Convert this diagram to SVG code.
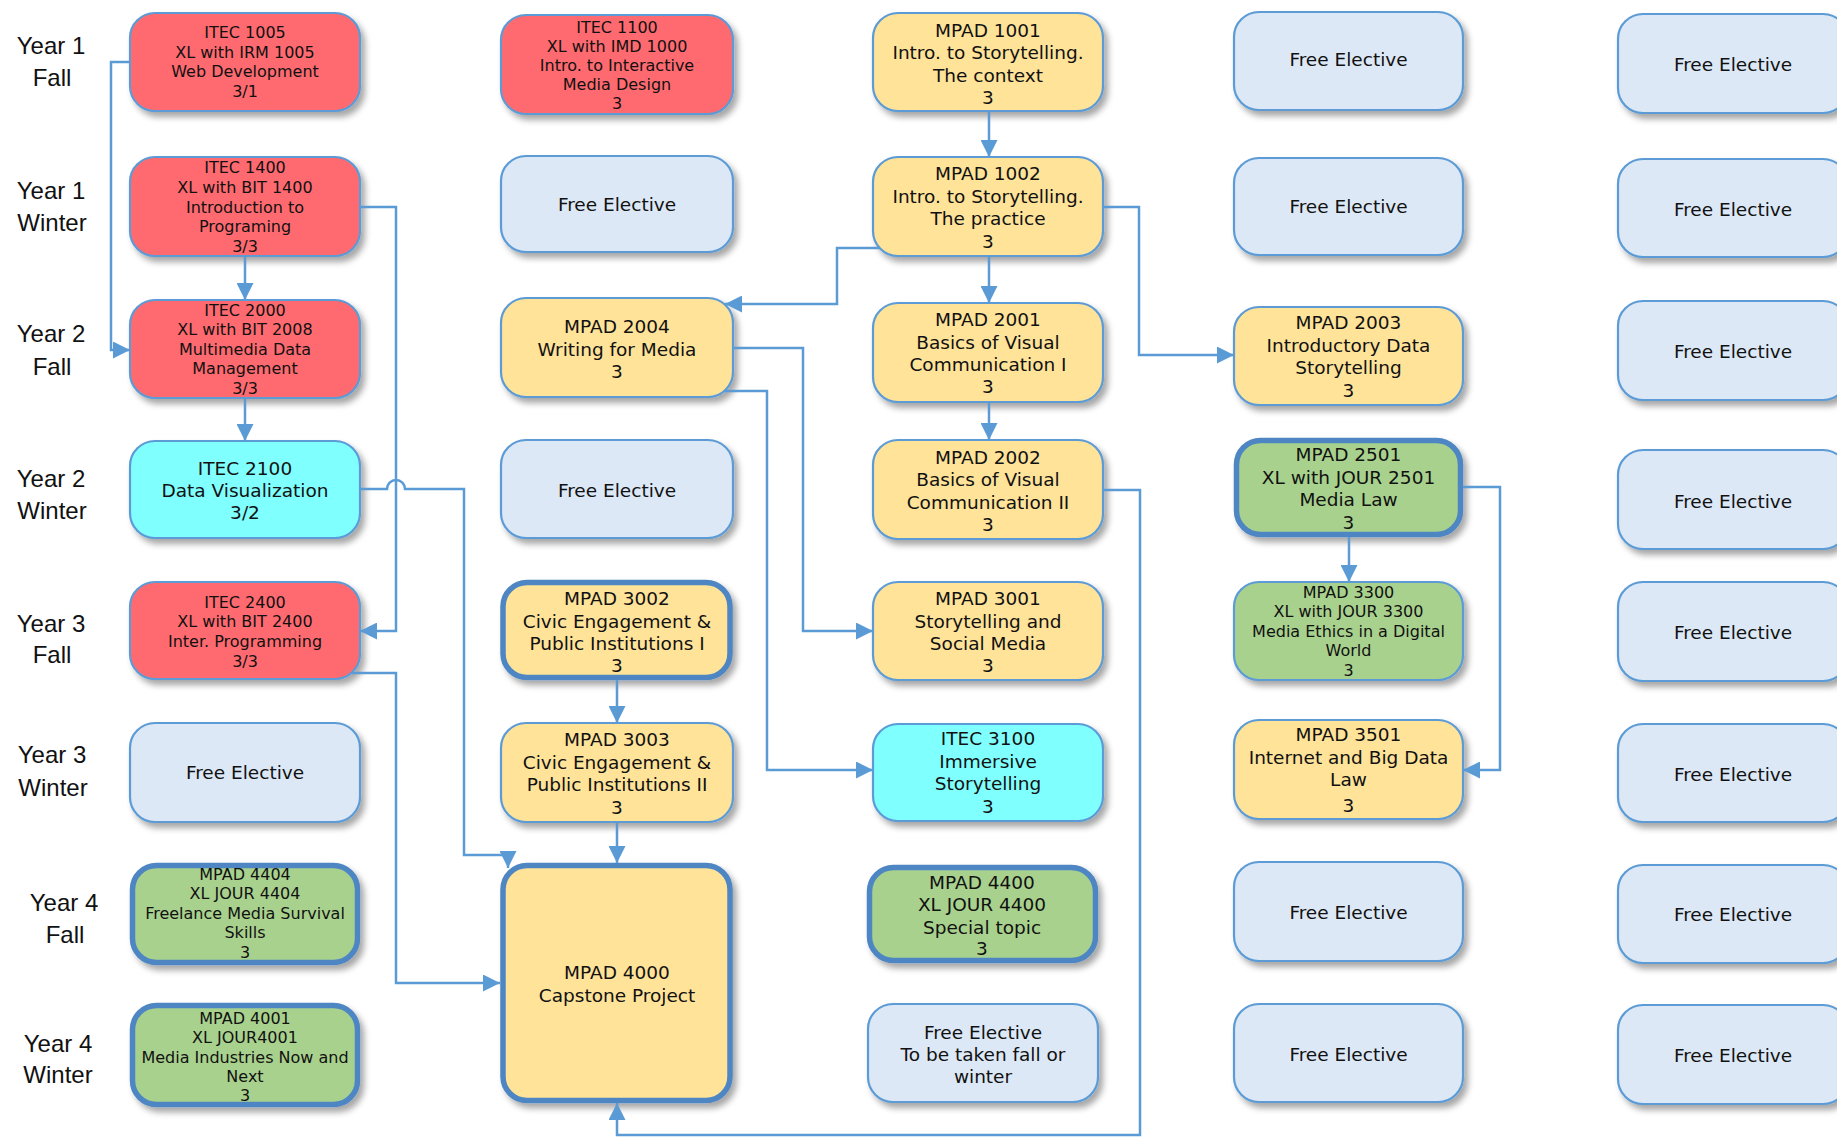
<svg xmlns="http://www.w3.org/2000/svg" width="1837" height="1137" viewBox="0 0 1837 1137">
<defs>
<filter id="sh" x="-10%" y="-10%" width="130%" height="140%">
<feDropShadow dx="4" dy="5" stdDeviation="3" flood-color="#000" flood-opacity="0.35"/>
</filter>
<marker id="arr" markerUnits="userSpaceOnUse" markerWidth="17" markerHeight="17" viewBox="0 0 16 16" refX="16" refY="8" orient="auto">
<path d="M0,0 L16,8 L0,16 z" fill="#5B9BD5"/>
</marker>
<style>
rect{filter:url(#sh);}
.thin{stroke:#5B9BD5;stroke-width:2.2;}
.thick{stroke:#4E86C2;stroke-width:5.5;}
.red{fill:#FF6B6F;}
.yel{fill:#FFE399;}
.ble{fill:#DCE8F5;}
.cyn{fill:#80FFFF;}
.grn{fill:#A9D18E;}
text{fill:#111;text-anchor:middle;font-family:"DejaVu Sans","Noto Sans",sans-serif;}
.s16{font-size:16px;}
.s18{font-size:18.5px;}
.fe{font-size:18.5px;}
.lbl{font-family:"Liberation Sans",Arial,sans-serif;font-size:24px;}
.con{fill:none;stroke:#5B9BD5;stroke-width:2.5;}
</style>
</defs>
<rect width="1837" height="1137" fill="#fff" style="filter:none"/>

<g id="labels">
<text class="lbl" x="51" y="54">Year 1</text><text class="lbl" x="52" y="86">Fall</text>
<text class="lbl" x="51" y="199">Year 1</text><text class="lbl" x="52" y="231">Winter</text>
<text class="lbl" x="51" y="342">Year 2</text><text class="lbl" x="52" y="375">Fall</text>
<text class="lbl" x="51" y="487">Year 2</text><text class="lbl" x="52" y="519">Winter</text>
<text class="lbl" x="51" y="632">Year 3</text><text class="lbl" x="52" y="663">Fall</text>
<text class="lbl" x="52" y="763">Year 3</text><text class="lbl" x="53" y="796">Winter</text>
<text class="lbl" x="64" y="911">Year 4</text><text class="lbl" x="65" y="943">Fall</text>
<text class="lbl" x="58" y="1052">Year 4</text><text class="lbl" x="58" y="1083">Winter</text>
</g>

<!-- Column A -->
<g id="itec1005"><rect class="red thin" x="130" y="13" width="230" height="98" rx="25"/>
<text class="s16"><tspan x="245" y="38">ITEC 1005</tspan><tspan x="245" y="57.5">XL with IRM 1005</tspan><tspan x="245" y="77">Web Development</tspan><tspan x="245" y="96.5">3/1</tspan></text></g>
<g id="itec1400"><rect class="red thin" x="130" y="157" width="230" height="99" rx="25"/>
<text class="s16"><tspan x="245" y="173">ITEC 1400</tspan><tspan x="245" y="193">XL with BIT 1400</tspan><tspan x="245" y="213">Introduction to</tspan><tspan x="245" y="232">Programing</tspan><tspan x="245" y="252">3/3</tspan></text></g>
<g id="itec2000"><rect class="red thin" x="130" y="300" width="230" height="98" rx="25"/>
<text class="s16"><tspan x="245" y="315.5">ITEC 2000</tspan><tspan x="245" y="335">XL with BIT 2008</tspan><tspan x="245" y="354.5">Multimedia Data</tspan><tspan x="245" y="374">Management</tspan><tspan x="245" y="393.5">3/3</tspan></text></g>
<g id="itec2100"><rect class="cyn thin" x="130" y="441" width="230" height="97" rx="25"/>
<text class="s18"><tspan x="245" y="475">ITEC 2100</tspan><tspan x="245" y="497">Data Visualization</tspan><tspan x="245" y="519">3/2</tspan></text></g>
<g id="itec2400"><rect class="red thin" x="130" y="582" width="230" height="97" rx="25"/>
<text class="s16"><tspan x="245" y="608">ITEC 2400</tspan><tspan x="245" y="627">XL with BIT 2400</tspan><tspan x="245" y="647">Inter. Programming</tspan><tspan x="245" y="667">3/3</tspan></text></g>
<g id="feA6"><rect class="ble thin" x="130" y="723" width="230" height="99" rx="25"/>
<text class="fe" x="245" y="779">Free Elective</text></g>
<g id="mpad4404"><rect class="grn thick" x="132.5" y="865.5" width="225" height="97" rx="24"/>
<text class="s16"><tspan x="245" y="880">MPAD 4404</tspan><tspan x="245" y="899">XL JOUR 4404</tspan><tspan x="245" y="919">Freelance Media Survival</tspan><tspan x="245" y="938">Skills</tspan><tspan x="245" y="958">3</tspan></text></g>
<g id="mpad4001"><rect class="grn thick" x="132.5" y="1005.5" width="225" height="99" rx="24"/>
<text class="s16"><tspan x="245" y="1024">MPAD 4001</tspan><tspan x="245" y="1043">XL JOUR4001</tspan><tspan x="245" y="1063">Media Industries Now and</tspan><tspan x="245" y="1082">Next</tspan><tspan x="245" y="1101">3</tspan></text></g>

<!-- Column B -->
<g id="itec1100"><rect class="red thin" x="501" y="15" width="232" height="99" rx="25"/>
<text class="s16"><tspan x="617" y="33">ITEC 1100</tspan><tspan x="617" y="52">XL with IMD 1000</tspan><tspan x="617" y="71">Intro. to Interactive</tspan><tspan x="617" y="90">Media Design</tspan><tspan x="617" y="109">3</tspan></text></g>
<g id="feB2"><rect class="ble thin" x="501" y="156" width="232" height="96" rx="25"/>
<text class="fe" x="617" y="210.5">Free Elective</text></g>
<g id="mpad2004"><rect class="yel thin" x="501" y="298" width="232" height="99" rx="25"/>
<text class="s18"><tspan x="617" y="333">MPAD 2004</tspan><tspan x="617" y="356">Writing for Media</tspan><tspan x="617" y="378">3</tspan></text></g>
<g id="feB4"><rect class="ble thin" x="501" y="440" width="232" height="98" rx="25"/>
<text class="fe" x="617" y="496.5">Free Elective</text></g>
<g id="mpad3002"><rect class="yel thick" x="503" y="582.5" width="227" height="95" rx="24"/>
<text class="s18"><tspan x="617" y="605">MPAD 3002</tspan><tspan x="617" y="628">Civic Engagement &amp;</tspan><tspan x="617" y="650">Public Institutions I</tspan><tspan x="617" y="672">3</tspan></text></g>
<g id="mpad3003"><rect class="yel thin" x="501" y="723" width="232" height="99" rx="25"/>
<text class="s18"><tspan x="617" y="746">MPAD 3003</tspan><tspan x="617" y="769">Civic Engagement &amp;</tspan><tspan x="617" y="791">Public Institutions II</tspan><tspan x="617" y="813.5">3</tspan></text></g>
<g id="mpad4000"><rect class="yel thick" x="503" y="865.5" width="227" height="235" rx="24"/>
<text class="s18"><tspan x="617" y="979">MPAD 4000</tspan><tspan x="617" y="1002">Capstone Project</tspan></text></g>

<!-- Column C -->
<g id="mpad1001"><rect class="yel thin" x="873" y="13" width="230" height="98" rx="25"/>
<text class="s18"><tspan x="988" y="37">MPAD 1001</tspan><tspan x="988" y="59">Intro. to Storytelling.</tspan><tspan x="988" y="81.5">The context</tspan><tspan x="988" y="104">3</tspan></text></g>
<g id="mpad1002"><rect class="yel thin" x="873" y="157" width="230" height="99" rx="25"/>
<text class="s18"><tspan x="988" y="180">MPAD 1002</tspan><tspan x="988" y="202.5">Intro. to Storytelling.</tspan><tspan x="988" y="225">The practice</tspan><tspan x="988" y="247.5">3</tspan></text></g>
<g id="mpad2001"><rect class="yel thin" x="873" y="303" width="230" height="99" rx="25"/>
<text class="s18"><tspan x="988" y="326">MPAD 2001</tspan><tspan x="988" y="349">Basics of Visual</tspan><tspan x="988" y="371">Communication I</tspan><tspan x="988" y="393">3</tspan></text></g>
<g id="mpad2002"><rect class="yel thin" x="873" y="440" width="230" height="99" rx="25"/>
<text class="s18"><tspan x="988" y="464">MPAD 2002</tspan><tspan x="988" y="486">Basics of Visual</tspan><tspan x="988" y="509">Communication II</tspan><tspan x="988" y="531">3</tspan></text></g>
<g id="mpad3001"><rect class="yel thin" x="873" y="582" width="230" height="98" rx="25"/>
<text class="s18"><tspan x="988" y="605">MPAD 3001</tspan><tspan x="988" y="628">Storytelling and</tspan><tspan x="988" y="650">Social Media</tspan><tspan x="988" y="672">3</tspan></text></g>
<g id="itec3100"><rect class="cyn thin" x="873" y="724" width="230" height="97" rx="25"/>
<text class="s18"><tspan x="988" y="745">ITEC 3100</tspan><tspan x="988" y="768">Immersive</tspan><tspan x="988" y="790">Storytelling</tspan><tspan x="988" y="813">3</tspan></text></g>
<g id="mpad4400"><rect class="grn thick" x="869.5" y="867.5" width="226" height="93" rx="24"/>
<text class="s18"><tspan x="982" y="889">MPAD 4400</tspan><tspan x="982" y="911">XL JOUR 4400</tspan><tspan x="982" y="934">Special topic</tspan><tspan x="982" y="955">3</tspan></text></g>
<g id="feC8"><rect class="ble thin" x="868" y="1004" width="230" height="98" rx="25"/>
<text class="s18"><tspan x="983" y="1038.5">Free Elective</tspan><tspan x="983" y="1060.5">To be taken fall or</tspan><tspan x="983" y="1082.5">winter</tspan></text></g>

<!-- Column D -->
<g id="feD1"><rect class="ble thin" x="1234" y="12" width="229" height="98" rx="25"/>
<text class="fe" x="1348.5" y="66">Free Elective</text></g>
<g id="feD2"><rect class="ble thin" x="1234" y="158" width="229" height="97" rx="25"/>
<text class="fe" x="1348.5" y="212.5">Free Elective</text></g>
<g id="mpad2003"><rect class="yel thin" x="1234" y="307" width="229" height="98" rx="25"/>
<text class="s18"><tspan x="1348.5" y="329">MPAD 2003</tspan><tspan x="1348.5" y="352">Introductory Data</tspan><tspan x="1348.5" y="374">Storytelling</tspan><tspan x="1348.5" y="397">3</tspan></text></g>
<g id="mpad2501"><rect class="grn thick" x="1236.5" y="440.5" width="224" height="94" rx="24"/>
<text class="s18"><tspan x="1348.5" y="461">MPAD 2501</tspan><tspan x="1348.5" y="484">XL with JOUR 2501</tspan><tspan x="1348.5" y="506">Media Law</tspan><tspan x="1348.5" y="529">3</tspan></text></g>
<g id="mpad3300"><rect class="grn thin" x="1234" y="582" width="229" height="98" rx="25"/>
<text class="s16"><tspan x="1348.5" y="597.5">MPAD 3300</tspan><tspan x="1348.5" y="617">XL with JOUR 3300</tspan><tspan x="1348.5" y="636.5">Media Ethics in a Digital</tspan><tspan x="1348.5" y="656">World</tspan><tspan x="1348.5" y="675.5">3</tspan></text></g>
<g id="mpad3501"><rect class="yel thin" x="1234" y="720" width="229" height="99" rx="25"/>
<text class="s18"><tspan x="1348.5" y="741">MPAD 3501</tspan><tspan x="1348.5" y="763.5">Internet and Big Data</tspan><tspan x="1348.5" y="786">Law</tspan><tspan x="1348.5" y="812">3</tspan></text></g>
<g id="feD7"><rect class="ble thin" x="1234" y="862" width="229" height="99" rx="25"/>
<text class="fe" x="1348.5" y="919">Free Elective</text></g>
<g id="feD8"><rect class="ble thin" x="1234" y="1004" width="229" height="98" rx="25"/>
<text class="fe" x="1348.5" y="1061">Free Elective</text></g>

<!-- Column E -->
<g id="feE1"><rect class="ble thin" x="1618" y="14" width="230" height="99" rx="25"/><text class="fe" x="1733" y="70.5">Free Elective</text></g>
<g id="feE2"><rect class="ble thin" x="1618" y="159" width="230" height="98" rx="25"/><text class="fe" x="1733" y="216">Free Elective</text></g>
<g id="feE3"><rect class="ble thin" x="1618" y="301" width="230" height="99" rx="25"/><text class="fe" x="1733" y="358">Free Elective</text></g>
<g id="feE4"><rect class="ble thin" x="1618" y="450" width="230" height="99" rx="25"/><text class="fe" x="1733" y="507.5">Free Elective</text></g>
<g id="feE5"><rect class="ble thin" x="1618" y="582" width="230" height="99" rx="25"/><text class="fe" x="1733" y="639">Free Elective</text></g>
<g id="feE6"><rect class="ble thin" x="1618" y="724" width="230" height="98" rx="25"/><text class="fe" x="1733" y="780.5">Free Elective</text></g>
<g id="feE7"><rect class="ble thin" x="1618" y="865" width="230" height="98" rx="25"/><text class="fe" x="1733" y="921">Free Elective</text></g>
<g id="feE8"><rect class="ble thin" x="1618" y="1005" width="230" height="99" rx="25"/><text class="fe" x="1733" y="1062">Free Elective</text></g>

<g id="connectors">
<path class="con" marker-end="url(#arr)" d="M130,62 H111 V350 H130"/>
<path class="con" marker-end="url(#arr)" d="M245,256 V300"/>
<path class="con" marker-end="url(#arr)" d="M360,207 H396 V631 H360"/>
<path class="con" marker-end="url(#arr)" d="M245,398 V441"/>
<path class="con" marker-end="url(#arr)" d="M360,489 H387 A9,9 0 0 1 405,489 H464 V855 H508 V868"/>
<path class="con" marker-end="url(#arr)" d="M351,673 H396 V983 H500"/>
<path class="con" marker-end="url(#arr)" d="M989,111 V157"/>
<path class="con" marker-end="url(#arr)" d="M880,248 H837 V304 H725"/>
<path class="con" marker-end="url(#arr)" d="M989,256 V303"/>
<path class="con" marker-end="url(#arr)" d="M1103,207 H1139 V355 H1234"/>
<path class="con" marker-end="url(#arr)" d="M989,402 V440"/>
<path class="con" marker-end="url(#arr)" d="M733,348 H803 V631 H873"/>
<path class="con" marker-end="url(#arr)" d="M724,391 H767 V770 H873"/>
<path class="con" marker-end="url(#arr)" d="M617,680 V723"/>
<path class="con" marker-end="url(#arr)" d="M617,822 V863"/>
<path class="con" marker-end="url(#arr)" d="M1103,490 H1140 V1135 H617 V1103"/>
<path class="con" marker-end="url(#arr)" d="M1349,537 V582"/>
<path class="con" marker-end="url(#arr)" d="M1463,487 H1500 V770 H1463"/>
</g>
</svg>
